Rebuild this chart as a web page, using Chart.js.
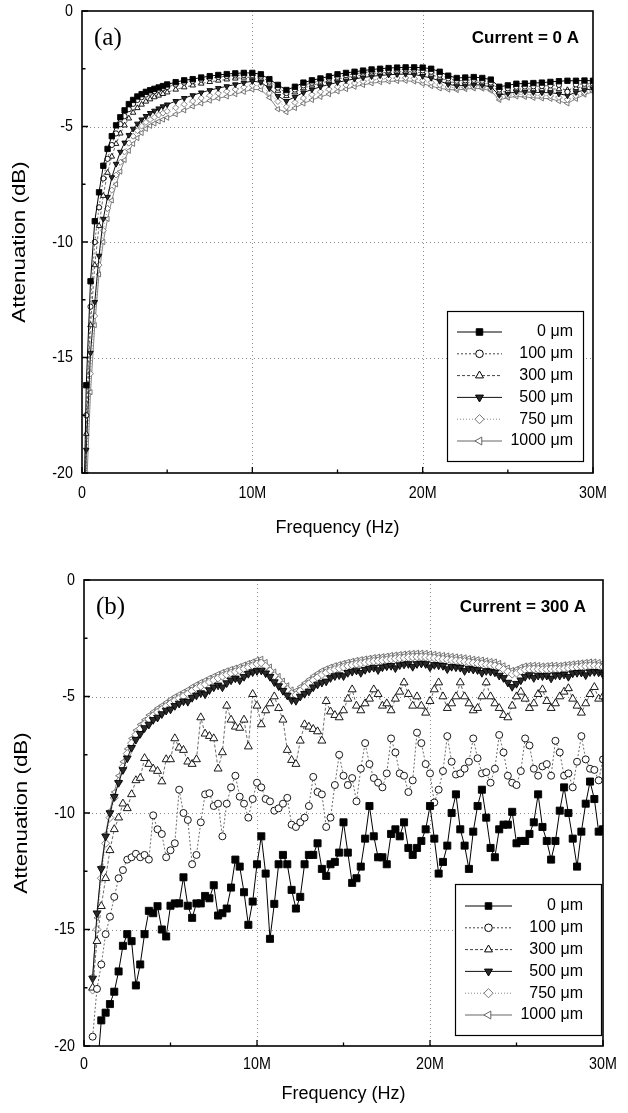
<!DOCTYPE html>
<html>
<head>
<meta charset="utf-8">
<script src="https://cdn.jsdelivr.net/npm/chart.js@4.4.1/dist/chart.umd.min.js"></script>
<style>
  body { margin: 0; background: #fff; width: 628px; height: 1113px; overflow: hidden; }
  canvas { position: absolute; left: 0; }
  #chartA { top: 0; }
  #chartB { top: 556px; }
</style>
</head>
<body>
<canvas id="chartA" width="628" height="556"></canvas>
<canvas id="chartB" width="628" height="557"></canvas>
<script>
// series names (gap width)
const seriesNames = ['0 μm', '100 μm', '300 μm', '500 μm', '750 μm', '1000 μm']

// axis ticks
const xMajor = [0, 10, 20, 30]
const xTickLabels = ['0', '10M', '20M', '30M']
const xMinor = [5, 15, 25]
const yMajor = [0, -5, -10, -15, -20]
const yTickLabels = ['0', '-5', '-10', '-15', '-20']
const yMinor = [-2.5, -7.5, -12.5, -17.5]
const xGridLines = [10, 20]
const yGridLines = [-5, -10, -15]

// (a) Current = 0 A, frequency in MHz
const freqA = [0.1, 0.25, 0.5, 0.75, 1, 1.25, 1.5, 1.75, 2, 2.25, 2.5,
  2.75, 3, 3.25, 3.5, 3.75, 4, 4.25, 4.5, 4.75, 5,
  5.5, 6, 6.5, 7, 7.5, 8, 8.5, 9, 9.5, 10,
  10.5, 11, 11.5, 12, 12.5, 13, 13.5, 14, 14.5, 15,
  15.5, 16, 16.5, 17, 17.5, 18, 18.5, 19, 19.5, 20,
  20.5, 21, 21.5, 22, 22.5, 23, 23.5, 24, 24.5, 25,
  25.5, 26, 26.5, 27, 27.5, 28, 28.5, 29, 29.5, 30]
const a0 = [-22, -16.2, -11.7, -9.1, -7.85, -6.7, -5.97, -5.42, -4.95, -4.6, -4.3,
  -4.03, -3.85, -3.7, -3.6, -3.5, -3.43, -3.37, -3.31, -3.25, -3.18,
  -3.08, -3.0, -2.95, -2.88, -2.82, -2.77, -2.73, -2.7, -2.68, -2.68,
  -2.74, -2.95, -3.2, -3.42, -3.28, -3.1, -3.0, -2.92, -2.83, -2.74,
  -2.68, -2.63, -2.58, -2.53, -2.5, -2.47, -2.45, -2.44, -2.44, -2.45,
  -2.5, -2.63, -2.8, -2.9, -2.88, -2.86, -2.9, -2.97, -3.28, -3.22,
  -3.15, -3.14, -3.12, -3.1, -3.07, -3.04, -3.02, -3.02, -3.01, -3.02]
const a100 = [-23, -17.5, -12.8, -10.0, -8.5, -7.25, -6.4, -5.8, -5.3, -4.9, -4.55,
  -4.25, -4.02, -3.85, -3.73, -3.62, -3.54, -3.47, -3.41, -3.35, -3.29,
  -3.18, -3.1, -3.04, -2.97, -2.91, -2.86, -2.82, -2.79, -2.77, -2.77,
  -2.84, -3.06, -3.32, -3.55, -3.4, -3.22, -3.11, -3.02, -2.93, -2.85,
  -2.78, -2.72, -2.67, -2.62, -2.59, -2.56, -2.54, -2.53, -2.54, -2.57,
  -2.63, -2.76, -2.92, -3.02, -3.0, -2.98, -3.02, -3.1, -3.4, -3.35,
  -3.28, -3.27, -3.26, -3.25, -3.22, -3.2, -3.5, -3.18, -3.15, -3.15]
const a300 = [-23.5, -18.3, -13.6, -11.0, -9.3, -8.0, -7.0, -6.3, -5.75, -5.3, -4.95,
  -4.65, -4.4, -4.2, -4.05, -3.92, -3.82, -3.73, -3.66, -3.59, -3.52,
  -3.4, -3.3, -3.22, -3.14, -3.07, -3.01, -2.96, -2.92, -2.88, -2.86,
  -2.93, -3.18, -3.45, -3.68, -3.52, -3.34, -3.22, -3.12, -3.03, -2.95,
  -2.88, -2.82, -2.76, -2.71, -2.68, -2.65, -2.63, -2.62, -2.64, -2.68,
  -2.75, -2.88, -3.04, -3.12, -3.1, -3.07, -3.1, -3.18, -3.52, -3.46,
  -3.38, -3.37, -3.38, -3.38, -3.37, -3.38, -3.42, -3.33, -3.27, -3.24]
const a500 = [-24, -19.0, -14.8, -12.6, -10.6, -9.0, -8.05, -7.2, -6.62, -6.1, -5.7,
  -5.37, -5.1, -4.88, -4.7, -4.55, -4.42, -4.32, -4.22, -4.13, -4.05,
  -3.9, -3.77, -3.65, -3.53, -3.43, -3.34, -3.26, -3.18, -3.1, -3.04,
  -3.08, -3.35, -3.68, -3.9, -3.72, -3.53, -3.4, -3.28, -3.18, -3.09,
  -3.01, -2.94, -2.88, -2.83, -2.79, -2.76, -2.74, -2.73, -2.75, -2.82,
  -2.9, -3.03, -3.17, -3.24, -3.22, -3.19, -3.21, -3.29, -3.64, -3.57,
  -3.5, -3.5, -3.52, -3.53, -3.54, -3.58, -3.66, -3.52, -3.42, -3.37]
const a750 = [-24.5, -20.0, -15.7, -13.2, -11.0, -9.5, -8.55, -7.75, -7.1, -6.55, -6.1,
  -5.72, -5.42, -5.18, -4.98, -4.82, -4.7, -4.6, -4.5, -4.42, -4.34,
  -4.19, -4.04, -3.9, -3.77, -3.66, -3.56, -3.48, -3.39, -3.3, -3.22,
  -3.24, -3.55, -3.92, -4.15, -3.96, -3.77, -3.62, -3.5, -3.39, -3.28,
  -3.2, -3.12, -3.05, -2.99, -2.95, -2.92, -2.9, -2.89, -2.92, -3.0,
  -3.09, -3.2, -3.29, -3.33, -3.3, -3.27, -3.29, -3.37, -3.75, -3.66,
  -3.6, -3.61, -3.64, -3.66, -3.67, -3.74, -3.84, -3.67, -3.53, -3.44]
const a1000 = [-24, -21, -16.5, -13.6, -11.4, -10.0, -9.0, -8.2, -7.5, -6.95, -6.45,
  -6.05, -5.75, -5.5, -5.28, -5.1, -4.97, -4.87, -4.78, -4.7, -4.62,
  -4.47, -4.3, -4.13, -4.0, -3.88, -3.78, -3.7, -3.6, -3.5, -3.4,
  -3.4, -3.75, -4.25, -4.38, -4.2, -4.0, -3.85, -3.72, -3.6, -3.48,
  -3.38, -3.28, -3.2, -3.13, -3.08, -3.05, -3.03, -3.02, -3.05, -3.15,
  -3.25, -3.35, -3.4, -3.42, -3.38, -3.35, -3.36, -3.45, -3.85, -3.75,
  -3.7, -3.72, -3.76, -3.78, -3.8, -3.9, -4.0, -3.8, -3.62, -3.5]

// (b) Current = 300 A, frequency in MHz
const freqB = [0.5, 0.75, 1, 1.25, 1.5, 1.75, 2, 2.25, 2.5, 2.75, 3, 3.25, 3.5, 3.75, 4, 4.25, 4.5, 4.75, 5,
  5.25, 5.5, 5.75, 6, 6.25, 6.5, 6.75, 7, 7.25, 7.5, 7.75, 8, 8.25, 8.5, 8.75, 9, 9.25, 9.5, 9.75, 10,
  10.25, 10.5, 10.75, 11, 11.25, 11.5, 11.75, 12, 12.25, 12.5, 12.75, 13, 13.25, 13.5, 13.75, 14, 14.25, 14.5, 14.75, 15,
  15.25, 15.5, 15.75, 16, 16.25, 16.5, 16.75, 17, 17.25, 17.5, 17.75, 18, 18.25, 18.5, 18.75, 19, 19.25, 19.5, 19.75, 20,
  20.25, 20.5, 20.75, 21, 21.25, 21.5, 21.75, 22, 22.25, 22.5, 22.75, 23, 23.25, 23.5, 23.75, 24, 24.25, 24.5, 24.75, 25,
  25.25, 25.5, 25.75, 26, 26.25, 26.5, 26.75, 27, 27.25, 27.5, 27.75, 28, 28.25, 28.5, 28.75, 29, 29.25, 29.5, 29.75, 30]
const b0 = [-24.5, -21.2, -18.9, -18.57, -18.2, -17.67, -16.8, -15.7, -15.2, -15.5, -17.4, -16.5, -15.2, -14.2, -14.3, -14.0, -15.0, -15.3, -13.98,
  -13.88, -13.88, -12.76, -13.98, -14.5, -13.88, -13.88, -13.56, -13.66, -13.1, -14.4, -14.3, -14.1, -13.2, -12.0, -12.3, -13.4, -14.8, -13.8, -12.2,
  -11.0, -12.6, -15.4, -13.9, -12.2, -11.8, -12.2, -13.3, -14.1, -13.6, -12.2, -11.8, -11.8, -11.3, -12.4, -12.7, -12.2, -12.1, -11.7, -10.4,
  -11.7, -13.0, -12.8, -12.3, -11.1, -9.7, -11.0, -11.9, -11.9, -12.2, -10.9, -10.7, -11.0, -10.4, -11.5, -11.8, -11.5, -11.2, -10.7, -9.7,
  -11.1, -12.6, -12.1, -11.4, -10.0, -9.2, -10.7, -11.4, -12.4, -10.8, -9.7, -9.0, -10.2, -11.5, -11.9, -10.7, -10.5, -10.5, -9.95, -11.3,
  -11.2, -11.2, -10.9, -10.4, -9.2, -10.6, -11.2, -12.0, -11.2, -9.9, -8.9, -10.0, -11.1, -12.3, -10.8, -9.6, -8.65, -9.4, -10.8, -10.7]
const b100 = [-19.6, -17.55, -16.5, -15.2, -14.45, -13.6, -12.8, -12.45, -12.0, -11.9, -11.75, -11.9, -11.8, -12.0, -10.1, -10.7, -10.9, -11.9, -11.6,
  -11.3, -9.0, -10.0, -10.3, -12.2, -11.8, -10.4, -9.2, -9.15, -9.7, -9.6, -11.0, -9.6, -8.9, -8.4, -9.3, -9.6, -10.2, -9.4, -8.7,
  -8.9, -9.4, -9.5, -9.9, -9.8, -9.6, -9.35, -10.5, -10.6, -10.4, -10.2, -9.7, -8.45, -9.1, -9.2, -10.6, -10.2, -8.8, -7.5, -8.4,
  -8.8, -8.5, -9.5, -8.1, -7.0, -7.9, -8.5, -8.7, -8.9, -8.3, -6.8, -7.4, -8.3, -8.4, -9.1, -8.6, -6.55, -7.0, -7.9, -8.3,
  -9.55, -9.0, -8.2, -6.7, -7.8, -8.35, -8.3, -8.1, -7.8, -6.8, -7.65, -8.3, -8.25, -8.7, -8.1, -6.65, -7.4, -8.4, -8.7, -8.8,
  -8.2, -6.8, -7.1, -8.1, -8.4, -8.0, -7.9, -8.4, -6.9, -7.4, -8.4, -8.3, -8.9, -7.8, -6.7, -7.7, -8.1, -8.15, -8.6, -7.7]
const b300 = [-17.5, -15.5, -14.0, -12.8, -11.6, -10.7, -10.2, -9.6, -9.8, -9.2, -8.6, -8.5, -7.65, -7.9, -8.1, -8.2, -8.65, -7.7, -7.7,
  -6.8, -7.2, -7.3, -7.8, -7.9, -7.7, -5.9, -6.6, -6.7, -6.8, -8.1, -7.4, -5.4, -6.0, -6.3, -6.35, -6.0, -7.15, -4.9, -5.4,
  -6.2, -5.6, -5.3, -5.0, -5.5, -6.0, -7.3, -7.73, -7.9, -6.9, -6.2, -6.3, -6.4, -6.5, -6.9, -5.2, -5.65, -5.8, -5.9, -5.6,
  -5.1, -4.7, -5.4, -5.6, -5.3, -5.1, -4.7, -4.9, -5.4, -5.3, -5.6, -5.1, -4.8, -4.4, -4.9, -5.4, -5.0, -5.4, -5.7, -5.2,
  -4.7, -4.4, -5.0, -5.5, -5.3, -5.0, -4.4, -5.0, -5.3, -5.6, -5.5, -5.0, -4.4, -5.0, -5.3, -5.5, -5.8, -5.9, -5.4, -5.0,
  -4.8, -5.1, -5.5, -5.3, -4.9, -4.7, -5.2, -5.5, -5.3, -5.0, -4.8, -4.65, -5.1, -5.4, -5.7, -5.3, -4.9, -4.6, -5.1, -5.0]
const b500 = [-17.1, -14.3, -12.4, -11.0, -10.0, -9.3, -8.7, -8.15, -7.65, -7.2, -6.85, -6.6, -6.35, -6.2, -6.0, -5.9, -5.75, -5.6, -5.55,
  -5.4, -5.3, -5.2, -5.22, -5.05, -4.95, -4.85, -4.9, -4.72, -4.6, -4.52, -4.6, -4.42, -4.3, -4.22, -4.3, -4.15, -4.02, -3.95, -3.9,
  -3.88, -4.0, -4.15, -4.38, -4.55, -4.75, -4.95, -5.15, -5.18, -5.0, -4.88, -4.78, -4.6, -4.48, -4.4, -4.35, -4.2, -4.12, -4.08, -4.12,
  -3.98, -3.93, -3.88, -3.98, -3.85, -3.8, -3.76, -3.86, -3.74, -3.7, -3.68, -3.78, -3.65, -3.62, -3.6, -3.72, -3.6, -3.58, -3.6, -3.74,
  -3.64, -3.66, -3.68, -3.82, -3.72, -3.74, -3.76, -3.9, -3.8, -3.84, -3.86, -3.98, -3.9, -3.93, -3.96, -4.1, -4.2, -4.4, -4.58, -4.45,
  -4.3, -4.15, -4.08, -4.2, -4.1, -4.12, -4.1, -4.22, -4.08, -4.1, -4.05, -4.15, -4.0, -3.98, -3.97, -4.08, -3.95, -3.94, -3.96, -4.05]
const b750 = [-17.6, -15.0, -12.8, -11.3, -10.2, -9.35, -8.65, -8.02, -7.45, -7.0, -6.64, -6.38, -6.17, -5.97, -5.82, -5.67, -5.55, -5.42, -5.3,
  -5.18, -5.08, -4.98, -4.88, -4.76, -4.66, -4.56, -4.48, -4.38, -4.3, -4.21, -4.13, -4.06, -4.0, -3.94, -3.88, -3.81, -3.74, -3.68, -3.6,
  -3.56, -3.7, -3.9, -4.11, -4.3, -4.5, -4.7, -4.88, -4.93, -4.76, -4.6, -4.45, -4.3, -4.18, -4.06, -3.98, -3.9, -3.84, -3.79, -3.74,
  -3.69, -3.65, -3.61, -3.58, -3.55, -3.52, -3.49, -3.47, -3.45, -3.43, -3.4, -3.38, -3.36, -3.34, -3.32, -3.31, -3.3, -3.3, -3.31, -3.33,
  -3.35, -3.38, -3.4, -3.42, -3.44, -3.46, -3.48, -3.5, -3.53, -3.56, -3.58, -3.6, -3.63, -3.66, -3.68, -3.74, -3.84, -3.94, -4.04, -4.0,
  -3.91, -3.85, -3.83, -3.82, -3.83, -3.85, -3.84, -3.82, -3.82, -3.83, -3.8, -3.78, -3.76, -3.74, -3.72, -3.7, -3.68, -3.68, -3.7, -3.73]
const b1000 = [-17.0, -14.5, -12.3, -10.9, -9.9, -9.1, -8.4, -7.8, -7.25, -6.8, -6.45, -6.2, -6.0, -5.8, -5.65, -5.5, -5.38, -5.25, -5.12,
  -5.0, -4.9, -4.8, -4.7, -4.58, -4.48, -4.38, -4.3, -4.2, -4.12, -4.03, -3.95, -3.88, -3.82, -3.76, -3.7, -3.63, -3.56, -3.5, -3.42,
  -3.38, -3.52, -3.72, -3.93, -4.12, -4.32, -4.52, -4.7, -4.75, -4.58, -4.42, -4.27, -4.12, -4.0, -3.88, -3.8, -3.72, -3.66, -3.61, -3.56,
  -3.51, -3.47, -3.43, -3.4, -3.37, -3.34, -3.31, -3.29, -3.27, -3.25, -3.22, -3.2, -3.18, -3.16, -3.14, -3.13, -3.12, -3.12, -3.13, -3.15,
  -3.17, -3.2, -3.22, -3.24, -3.26, -3.28, -3.3, -3.32, -3.35, -3.38, -3.4, -3.42, -3.45, -3.48, -3.5, -3.56, -3.66, -3.76, -3.86, -3.82,
  -3.73, -3.67, -3.65, -3.64, -3.65, -3.67, -3.66, -3.64, -3.64, -3.65, -3.62, -3.6, -3.58, -3.56, -3.54, -3.52, -3.5, -3.5, -3.52, -3.55]

// marker / line look of each series
const seriesStyle = [
  { style: 'rect', rot: 0, fill: '#000', edge: '#000', line: '#000', dash: [], lw: 1 },
  { style: 'circle', rot: 0, fill: '#fff', edge: '#000', line: '#444', dash: [2, 2], lw: 0.8 },
  { style: 'triangle', rot: 0, fill: '#fff', edge: '#000', line: '#444', dash: [3, 2], lw: 0.8 },
  { style: 'triangle', rot: 180, fill: '#2a2a2a', edge: '#000', line: '#111', dash: [], lw: 1 },
  { style: 'rectRot', rot: 0, fill: '#fff', edge: '#777', line: '#888', dash: [1, 2], lw: 0.8 },
  { style: 'triangle', rot: 270, fill: '#fff', edge: '#666', line: '#666', dash: [], lw: 0.8 }
]

function drawText(ctx, text, x, y, font, align, sx, sy, rot) {
  ctx.save()
  ctx.translate(x, y)
  if (rot) ctx.rotate(rot)
  ctx.scale(sx, sy)
  ctx.font = font
  ctx.textAlign = align
  ctx.textBaseline = 'middle'
  ctx.fillStyle = '#000'
  ctx.fillText(text, 0, 0)
  ctx.restore()
}

function drawMarker(ctx, s, r, px, py) {
  ctx.save()
  ctx.fillStyle = s.fill
  ctx.strokeStyle = s.edge
  ctx.lineWidth = 1
  ctx.setLineDash([])
  ctx.beginPath()
  if (s.style === 'rect') {
    const h = r * Math.SQRT1_2
    ctx.rect(px - h, py - h, 2 * h, 2 * h)
  } else if (s.style === 'circle') {
    ctx.arc(px, py, r, 0, 2 * Math.PI)
  } else if (s.style === 'rectRot') {
    ctx.moveTo(px, py - r); ctx.lineTo(px + r, py); ctx.lineTo(px, py + r); ctx.lineTo(px - r, py)
    ctx.closePath()
  } else {
    let rad = s.rot * Math.PI / 180
    for (let k = 0; k < 3; k++) {
      const fx = px + Math.sin(rad) * r, fy = py - Math.cos(rad) * r
      if (k) ctx.lineTo(fx, fy); else ctx.moveTo(fx, fy)
      rad += 2 * Math.PI / 3
    }
    ctx.closePath()
  }
  ctx.fill()
  ctx.stroke()
  ctx.restore()
}

// grid, frame, inward ticks, labels, legend, notes
const framePlugin = {
  id: 'frame',
  beforeDatasetsDraw(chart, args, o) {
    const { ctx, chartArea: a, scales: { x, y } } = chart
    ctx.save()
    ctx.strokeStyle = '#8a8a8a'
    ctx.lineWidth = 1
    ctx.setLineDash([1, 3])
    ctx.beginPath()
    xGridLines.forEach(v => {
      const px = Math.round(x.getPixelForValue(v)) + 0.5
      ctx.moveTo(px, a.top); ctx.lineTo(px, a.bottom)
    })
    yGridLines.forEach(v => {
      const py = Math.round(y.getPixelForValue(v)) + 0.5
      ctx.moveTo(a.left, py); ctx.lineTo(a.right, py)
    })
    ctx.stroke()
    ctx.restore()
  },
  afterDatasetsDraw(chart, args, o) {
    const { ctx, chartArea: a, scales: { x, y } } = chart
    ctx.save()
    ctx.strokeStyle = '#000'
    ctx.setLineDash([])
    ctx.lineWidth = 1.3
    ctx.beginPath()
    xMajor.forEach(v => { const px = x.getPixelForValue(v); ctx.moveTo(px, a.bottom); ctx.lineTo(px, a.bottom - 6) })
    xMinor.forEach(v => { const px = x.getPixelForValue(v); ctx.moveTo(px, a.bottom); ctx.lineTo(px, a.bottom - 3.5) })
    yMajor.forEach(v => { const py = y.getPixelForValue(v); ctx.moveTo(a.left, py); ctx.lineTo(a.left + 6, py) })
    yMinor.forEach(v => { const py = y.getPixelForValue(v); ctx.moveTo(a.left, py); ctx.lineTo(a.left + 3.5, py) })
    ctx.stroke()
    ctx.lineWidth = 1.6
    ctx.strokeRect(a.left, a.top, a.right - a.left, a.bottom - a.top)
    ctx.restore()

    const tickFont = '17px "Liberation Sans", Arial, sans-serif'
    xMajor.forEach((v, i) => drawText(ctx, xTickLabels[i], x.getPixelForValue(v), a.bottom + o.xLabelGap, tickFont, 'center', 0.84, 1))
    yMajor.forEach((v, i) => drawText(ctx, yTickLabels[i], a.left - 9, y.getPixelForValue(v), tickFont, 'right', 0.84, 1))

    const titleFont = '18px "Liberation Sans", Arial, sans-serif'
    drawText(ctx, 'Frequency (Hz)', (a.left + a.right) / 2, a.bottom + o.xTitleGap, titleFont, 'center', 1, 1)
    drawText(ctx, 'Attenuation (dB)', a.left - 62, (a.top + a.bottom) / 2, titleFont, 'center', 1.24, 1, -Math.PI / 2)

    drawText(ctx, o.tag, a.left + 12, a.top + 27, '25px "Liberation Serif", "Times New Roman", serif', 'left', 1, 1)
    drawText(ctx, o.current, a.right - o.currentPad, a.top + 27, 'bold 17px "Liberation Sans", Arial, sans-serif', 'right', 1, 1)

    // legend box
    const L = o.legend
    const bx = a.right - L.right - L.w, by = a.bottom - L.bottom - L.h
    ctx.save()
    ctx.fillStyle = '#fff'
    ctx.fillRect(bx, by, L.w, L.h)
    ctx.strokeStyle = '#000'
    ctx.lineWidth = 1.2
    ctx.strokeRect(bx + 0.5, by + 0.5, L.w, L.h)
    ctx.restore()
    seriesNames.forEach((name, i) => {
      const s = seriesStyle[i]
      const ry = by + L.first + i * 21.8
      ctx.save()
      ctx.strokeStyle = s.line
      ctx.lineWidth = 1
      ctx.setLineDash(s.dash)
      ctx.beginPath()
      ctx.moveTo(bx + 10, ry); ctx.lineTo(bx + 10 + L.line, ry)
      ctx.stroke()
      ctx.restore()
      drawMarker(ctx, s, s.style === 'circle' ? 3.8 : 4.6, bx + 10 + L.line / 2, ry)
      drawText(ctx, name, bx + L.w - L.textPad, ry, '16px "Liberation Sans", Arial, sans-serif', 'right', 1, 1)
    })
  }
}

function makeSets(freq, series, radii) {
  return series.map((vals, i) => {
    const s = seriesStyle[i]
    return {
      label: seriesNames[i],
      data: freq.map((f, k) => ({ x: f, y: vals[k] })),
      showLine: true,
      borderColor: s.line,
      borderWidth: s.lw,
      borderDash: s.dash,
      pointStyle: s.style,
      pointRotation: s.rot,
      pointRadius: radii[i],
      pointHoverRadius: radii[i],
      pointBackgroundColor: s.fill,
      pointBorderColor: s.edge,
      pointBorderWidth: 0.9
    }
  })
}

function makeChart(id, datasets, pad, yWidth, xHeight, notes) {
  return new Chart(document.getElementById(id), {
    type: 'scatter',
    data: { datasets },
    options: {
      responsive: false,
      animation: false,
      events: [],
      layout: { padding: pad },
      plugins: { legend: { display: false }, tooltip: { enabled: false }, frame: notes },
      scales: {
        x: {
          type: 'linear', min: 0, max: 30,
          grid: { display: false, drawTicks: false }, border: { display: false },
          ticks: { display: false },
          afterFit: scale => { scale.height = xHeight }
        },
        y: {
          type: 'linear', min: -20, max: 0,
          grid: { display: false, drawTicks: false }, border: { display: false },
          ticks: { display: false },
          afterFit: scale => { scale.width = yWidth }
        }
      }
    },
    plugins: [framePlugin]
  })
}

makeChart('chartA',
  makeSets(freqA, [a0, a100, a300, a500, a750, a1000], [3.8, 2.6, 3.2, 3.2, 3.0, 3.0]),
  { left: 0, right: 35, top: 11, bottom: 0 }, 82, 83,
  { tag: '(a)', current: 'Current = 0 A', currentPad: 14, xLabelGap: 20, xTitleGap: 55,
    legend: { right: 10, bottom: 12, w: 136, h: 150, first: 21, line: 45, textPad: 10 } })

makeChart('chartB',
  makeSets(freqB, [b0, b100, b300, b500, b750, b1000], [5, 3.5, 4.6, 4.5, 4, 3]),
  { left: 0, right: 25, top: 24, bottom: 0 }, 84, 67,
  { tag: '(b)', current: 'Current = 300 A', currentPad: 17, xLabelGap: 18, xTitleGap: 48,
    legend: { right: 2, bottom: 11, w: 146, h: 151, first: 22, line: 47, textPad: 18 } })
</script>
</body>
</html>
